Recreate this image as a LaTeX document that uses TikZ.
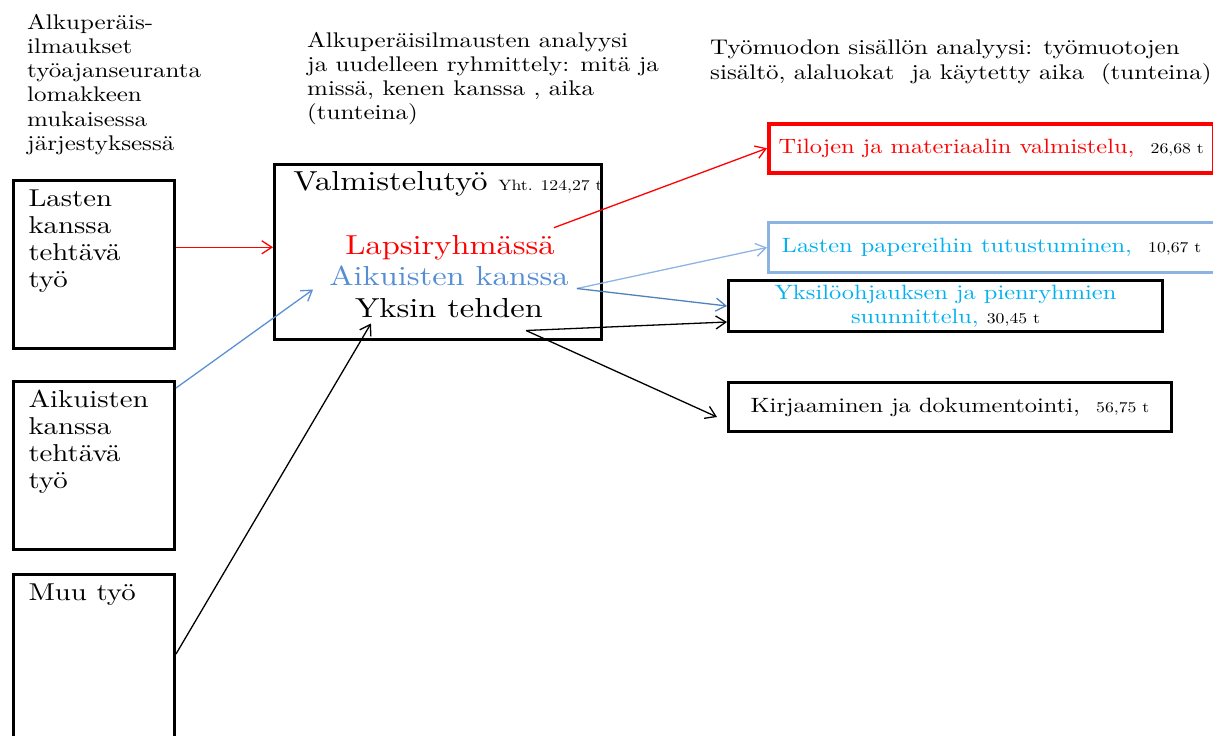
\documentclass[tikz,border=0pt]{standalone}
\usepackage{fontspec}
\setmainfont{lmroman10-regular.otf}[FakeStretch=1.18]
\usetikzlibrary{arrows.meta,calc}
\definecolor{bluetext}{HTML}{558ED5}
\definecolor{bluearrow}{HTML}{4F81BD}
\definecolor{bluearrowin}{HTML}{5B8FD6}
\definecolor{lightbluearrow}{HTML}{8EB4E3}
\definecolor{lightblueborder}{HTML}{8DB3E2}
\definecolor{cyantext}{HTML}{00B0F0}
\newcommand\myfs[2]{\fontsize{#1}{#2}\selectfont}
\newcommand\smalltxt{\myfs{15}{16}}
\begin{document}
\begin{tikzpicture}[x=1pt,y=-1pt,
  hdr/.style={anchor=north west, inner sep=0pt, align=left, font=\myfs{21.2}{24.2}},
  lbox/.style={draw, line width=3pt, anchor=north west, inner xsep=15pt, inner ysep=9pt, font=\myfs{24.4}{27}},
  rbox/.style={draw, line width=3pt, anchor=north west, inner sep=0pt, font=\myfs{20.7}{24}, align=center},
  bigtxt/.style={anchor=base, inner sep=0pt, font=\myfs{27.5}{31}},
  conn/.style={line width=1.3pt, -{Straight Barb[length=10pt,width=13pt]}},
]
\useasboundingbox (0,0) rectangle (1213,736);
\clip (0,0) rectangle (1213,736);

% headers
\node[hdr] (hdrL) at (27,14) {Alkuperäis-\\ilmaukset\\työajanseuranta\\lomakkeen\\mukaisessa\\järjestyksessä};
\node[hdr] (hdrM) at (307,32) {Alkuperäisilmausten analyysi\\ja uudelleen ryhmittely: mitä ja\\missä, kenen kanssa , aika\\(tunteina)};
\node[hdr] (hdrR) at (710,40) {Työmuodon sisällön analyysi: työmuotojen\\sisältö, alaluokat\ \ ja käytetty aika\ \ (tunteina)};

% left boxes
\node[lbox] (lasten) at (12,179) {\parbox[t][150pt][t]{131pt}{\raggedright Lasten\\kanssa\\tehtävä\\työ}};
\node[lbox] (aikbox) at (12,380) {\parbox[t][150pt][t]{131pt}{\raggedright Aikuisten\\kanssa\\tehtävä\\työ}};
\node[lbox] (muu) at (12,573) {\parbox[t][200pt][t]{131pt}{\raggedright Muu työ}};

% middle box
\node[draw, line width=3pt, anchor=north west, inner sep=0pt, minimum width=327, minimum height=175] (valm) at (273,163) {};
\node[bigtxt] (title) at (448,190) {Valmistelutyö {\smalltxt Yht. 124,27 t}};
\node[bigtxt, text=red] (lapsi) at (450,254) {Lapsiryhmässä};
\node[bigtxt, text=bluetext] (aik) at (449,285) {Aikuisten kanssa};
\node[bigtxt] (yks) at (449,317) {Yksin tehden};

% right boxes
\node[rbox, draw=red, line width=3.5pt, text=red, minimum width=445, minimum height=49] (tilo) at (767,122)
  {Tilojen ja materiaalin valmistelu,\ \ {\color{black}\smalltxt 26,68 t}};
\node[rbox, draw=lightblueborder, text=cyantext, minimum width=446, minimum height=50] (lasp) at (767,221)
  {Lasten papereihin tutustuminen,\ \ {\color{black}\smalltxt 10,67 t}};
\node[rbox, text=cyantext, minimum width=434, minimum height=51] (yksil) at (727,279)
  {Yksilöohjauksen ja pienryhmien\\suunnittelu, {\color{black}\smalltxt 30,45 t}};
\node[rbox, minimum width=443, minimum height=49] (kirj) at (727,381)
  {Kirjaaminen ja dokumentointi,\ \ {\smalltxt 56,75 t}};

% connectors into middle box
\draw[conn, red] (lasten.east |- lapsi) -- (valm.west |- lapsi);
\draw[conn, bluearrowin] ($(aikbox.north east)+(0,8)$) -- ($(aik.south west)+(-16,4)$);
\draw[conn, black] ($(muu.north east)+(0,81)$) -- ($(yks.south west)+(16,6)$);

% connectors out of middle box
\draw[conn, red] ($(lapsi.north east)+(-1,-7)$) -- (tilo.west);
\draw[conn, lightbluearrow] ($(aik.south east)+(8,3)$) -- (lasp.west);
\draw[conn, bluearrow] ($(aik.south east)+(8,3)$) -- (yksil.west);
\draw[conn, black] ($(yks.south east)+(-17,13)$) -- ($(yksil.west)+(0,16)$);
\draw[conn, black] ($(yks.south east)+(-17,13)$) -- ($(kirj.west)+(-10,10)$);
\end{tikzpicture}
\end{document}
